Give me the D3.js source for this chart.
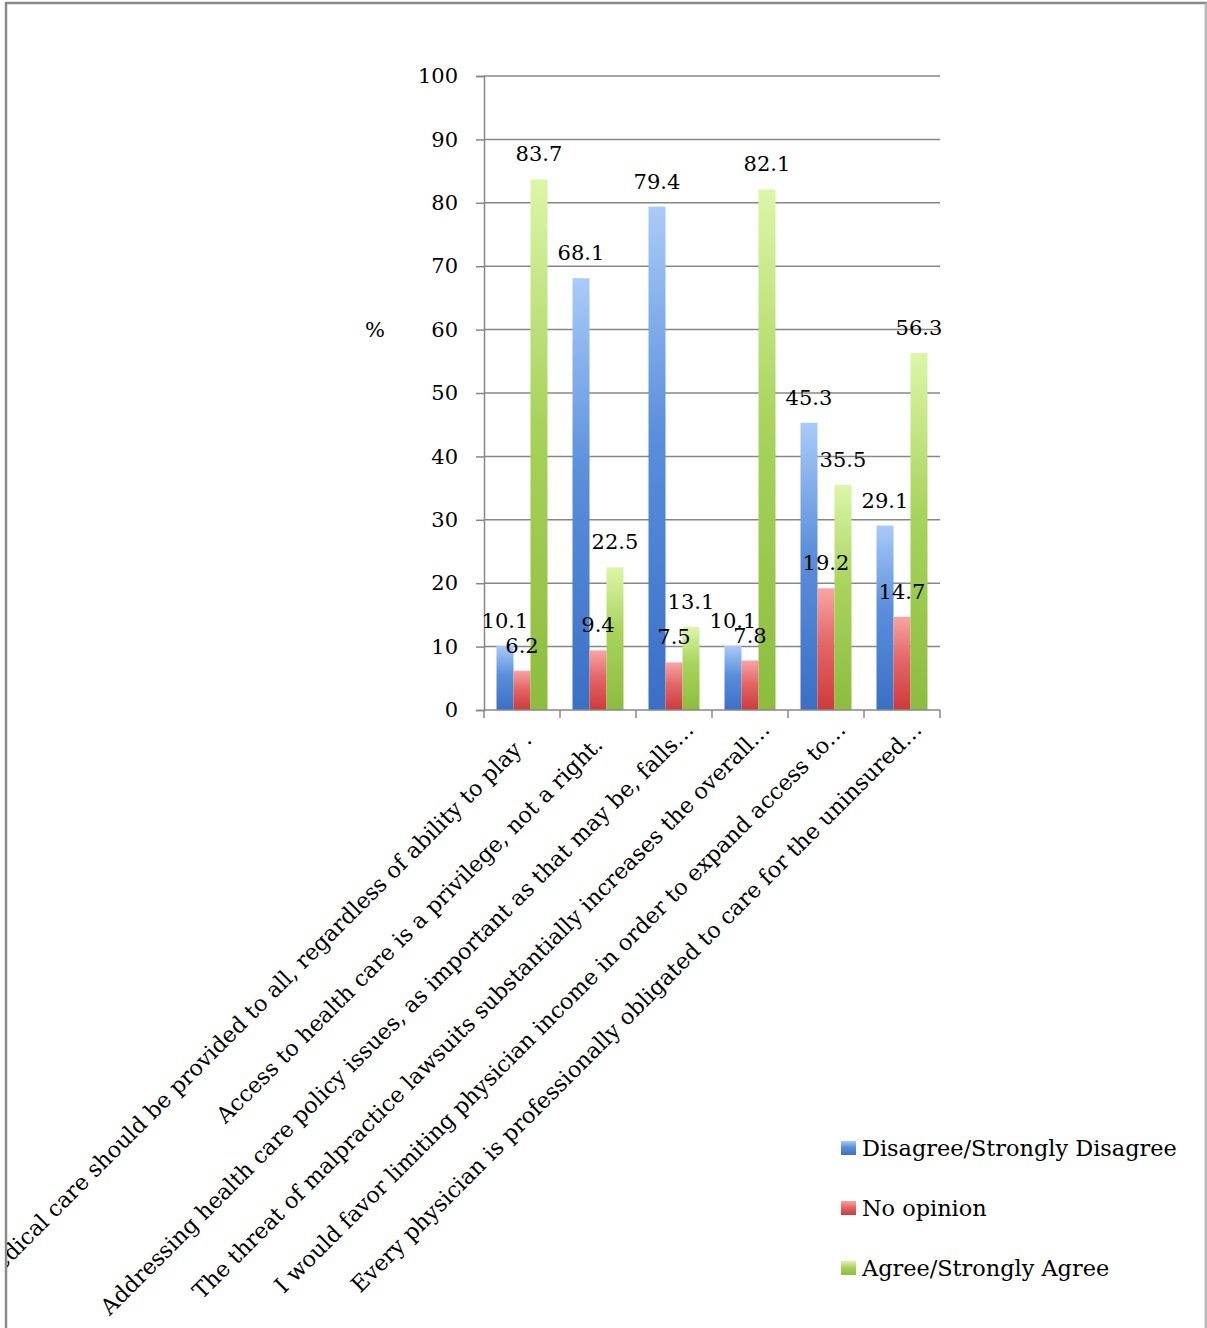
<!DOCTYPE html>
<html>
<head>
<meta charset="utf-8">
<script src="https://cdn.jsdelivr.net/npm/d3@7"></script>
<style>
  html, body { margin: 0; padding: 0; background: #fff; }
  svg { display: block; }
  text { font-family: "DejaVu Serif", serif; fill: #000; }
</style>
</head>
<body>
<svg id="chart" width="1207" height="1328"></svg>
<script>
// Survey statements (category axis)
const categories = [
  "Medical care should be provided to all, regardless of ability to play .\u00A0\u00A0",
  "Access to health care is a privilege, not a right.\u00A0\u00A0\u00A0",
  "Addressing health care policy issues, as important as that may be, falls\u2026",
  "The threat of malpractice lawsuits substantially increases the overall\u2026",
  "I would favor limiting physician income in order to expand access to\u2026",
  "Every physician is professionally obligated to care for the uninsured\u2026"
];

// Percent of respondents per response group
const disagree  = [10.1, 68.1, 79.4, 10.1, 45.3, 29.1];
const noOpinion = [6.2, 9.4, 7.5, 7.8, 19.2, 14.7];
const agree     = [83.7, 22.5, 13.1, 82.1, 35.5, 56.3];

const seriesNames = ["Disagree/Strongly Disagree", "No opinion", "Agree/Strongly Agree"];
const yTicks = [0, 10, 20, 30, 40, 50, 60, 70, 80, 90, 100];
const yLabel = "%";

const series = [
  { name: seriesNames[0], values: disagree,  grad: "gBlue" },
  { name: seriesNames[1], values: noOpinion, grad: "gRed" },
  { name: seriesNames[2], values: agree,     grad: "gGreen" }
];

const svg = d3.select("#chart");
const axisColor = "#878787";

// Bar fills: light at the top, saturated toward the base
const defs = svg.append("defs");
const gradSpecs = [
  { id: "gBlue",  stops: ["#a9cbf8", "#5b8fdb", "#3a6fc6"] },
  { id: "gRed",   stops: ["#f8a4a4", "#e46767", "#cf3a3a"] },
  { id: "gGreen", stops: ["#dcf6a8", "#a8d35c", "#8cbd3e"] }
];
gradSpecs.forEach(g => {
  const lg = defs.append("linearGradient")
    .attr("id", g.id).attr("x1", 0).attr("y1", 0).attr("x2", 0).attr("y2", 1);
  lg.append("stop").attr("offset", "0%").attr("stop-color", g.stops[0]);
  lg.append("stop").attr("offset", "45%").attr("stop-color", g.stops[1]);
  lg.append("stop").attr("offset", "100%").attr("stop-color", g.stops[2]);
});
defs.append("clipPath").attr("id", "frameClip")
  .append("rect").attr("x", 7).attr("y", 4).attr("width", 1198).attr("height", 1330);

// Outer frame
svg.append("path")
  .attr("d", "M6,1328 V3 H1206 V1328")
  .attr("fill", "none").attr("stroke", "#8a8a8a").attr("stroke-width", 2.5);
svg.append("line").attr("x1", 1206).attr("x2", 1206).attr("y1", 3).attr("y2", 1328)
  .attr("stroke", "#c8c8c8").attr("stroke-width", 1.5);

const plot = { left: 484, right: 940, top: 76, bottom: 710 };

const x = d3.scaleBand().domain(categories).range([plot.left, plot.right]).padding(0);
const xSub = d3.scaleBand().domain(series.map(s => s.name))
  .range([12.5, x.bandwidth() - 12.5]).padding(0);
const y = d3.scaleLinear().domain([0, 100]).range([plot.bottom, plot.top]);

const g = svg.append("g").attr("clip-path", "url(#frameClip)");

// Horizontal gridlines
g.append("g").selectAll("line")
  .data(yTicks.filter(t => t > 0))
  .join("line")
  .attr("x1", plot.left).attr("x2", plot.right)
  .attr("y1", d => y(d)).attr("y2", d => y(d))
  .attr("stroke", axisColor).attr("stroke-width", 1.5);

// Value axis
const yAxis = g.append("g")
  .attr("transform", `translate(${plot.left},0)`)
  .call(d3.axisLeft(y).tickValues(yTicks).tickSize(8).tickPadding(18).tickFormat(d3.format("d")));
yAxis.select(".domain").attr("stroke", axisColor).attr("stroke-width", 1.5);
yAxis.selectAll(".tick line").attr("stroke", axisColor).attr("stroke-width", 1.5);
yAxis.selectAll(".tick text")
  .attr("font-family", "DejaVu Serif").attr("font-size", 21).attr("fill", "#000");

g.append("text")
  .attr("x", 375).attr("y", y(60))
  .attr("text-anchor", "middle").attr("dominant-baseline", "central")
  .attr("font-size", 21)
  .text(yLabel);

// Flattened bar records
const points = series.flatMap(s => s.values.map((v, i) => ({ s, v, c: categories[i] })));

// Bars
g.append("g").selectAll("rect")
  .data(points)
  .join("rect")
  .attr("fill", d => `url(#${d.s.grad})`)
  .attr("x", d => x(d.c) + xSub(d.s.name))
  .attr("width", xSub.bandwidth())
  .attr("y", d => y(d.v))
  .attr("height", d => y(0) - y(d.v));

// Category axis
const xAxis = g.append("g")
  .attr("transform", `translate(0,${plot.bottom})`);
xAxis.append("line")
  .attr("x1", plot.left).attr("x2", plot.right)
  .attr("stroke", axisColor).attr("stroke-width", 1.5);
xAxis.selectAll("line.tick")
  .data(categories.map(c => x(c)).concat([plot.right]))
  .join("line").attr("class", "tick")
  .attr("x1", d => d).attr("x2", d => d)
  .attr("y1", 0).attr("y2", 8)
  .attr("stroke", axisColor).attr("stroke-width", 1.5);

// Value labels above each bar (drawn after all bars)
g.append("g").selectAll("text")
  .data(points)
  .join("text")
  .attr("x", d => x(d.c) + xSub(d.s.name) + xSub.bandwidth() / 2)
  .attr("y", d => y(d.v) - 18)
  .attr("text-anchor", "middle")
  .attr("font-size", 21)
  .attr("fill", "#000")
  .text(d => d.v.toFixed(1));

// Rotated category labels
g.append("g").selectAll("text")
  .data(categories)
  .join("text")
  .attr("transform", d => `translate(${x(d) + x.bandwidth() / 2 + 21},731) rotate(-45)`)
  .attr("text-anchor", "end")
  .attr("font-size", 22.3)
  .style("white-space", "pre")
  .text(d => d);

// Legend
const legend = g.append("g").attr("transform", "translate(841,1141)");
const li = legend.selectAll("g")
  .data(series)
  .join("g")
  .attr("transform", (d, i) => `translate(0,${i * 60})`);
li.append("rect")
  .attr("width", 15).attr("height", 14)
  .attr("fill", d => `url(#${d.grad})`);
li.append("text")
  .attr("x", 21).attr("y", 15)
  .attr("font-size", 22.4)
  .text(d => d.name);
</script>
</body>
</html>
